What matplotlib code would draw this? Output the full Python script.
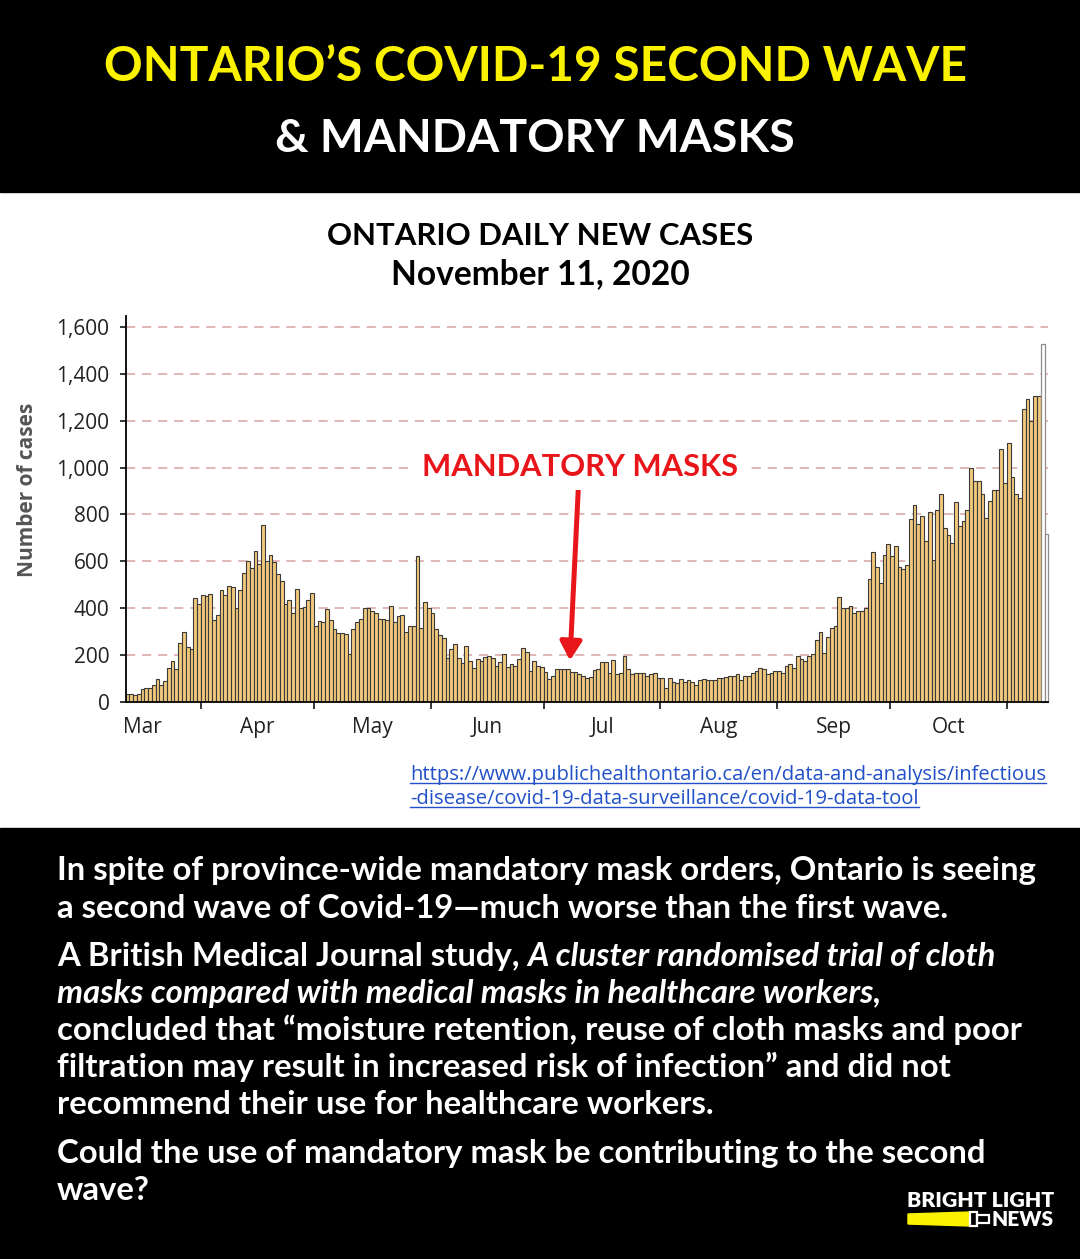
import matplotlib
matplotlib.use('Agg')
import matplotlib.pyplot as plt
import matplotlib.transforms as mtransforms
from matplotlib.patches import Rectangle, Polygon
from matplotlib.lines import Line2D
import pandas as pd

W, H = 1080, 1259

# daily new cases (Mar 12 - Nov 11, 2020)
start_date = '2020-03-12'
mar_cases = [34, 34, 29, 34, 53, 57, 57, 69, 97, 72, 86, 143, 173, 139, 250, 296, 232, 224, 443, 415]
apr_cases = [455, 450, 460, 350, 372, 479, 455, 496, 490, 399, 479, 548, 600, 572, 643, 589, 754, 602,
             625, 598, 545, 516, 419, 435, 378, 482, 399, 406, 435, 466]
may_cases = [325, 345, 338, 396, 349, 312, 292, 292, 289, 202, 309, 338, 353, 401, 401, 389, 378, 355,
             353, 349, 408, 342, 365, 372, 296, 325, 325, 624, 314, 426, 402]
jun_cases = [378, 309, 284, 273, 185, 225, 245, 185, 166, 238, 175, 142, 180, 173, 192, 195, 188, 154,
             171, 203, 149, 159, 154, 182, 228, 210, 132, 175, 154, 149]
jul_cases = [128, 95, 107, 139, 139, 139, 138, 128, 125, 118, 111, 100, 104, 135, 139, 168, 168, 121,
             178, 118, 124, 196, 139, 118, 121, 121, 121, 107, 118, 121, 100]
aug_cases = [100, 57, 100, 85, 81, 97, 85, 90, 85, 71, 90, 97, 90, 90, 90, 100, 100, 104, 107, 111,
             118, 92, 111, 111, 121, 132, 145, 139, 118, 121, 131]
sep_cases = [132, 120, 153, 160, 142, 196, 180, 173, 196, 202, 263, 296, 206, 277, 313, 324, 448, 401,
             401, 408, 377, 388, 388, 398, 522, 640, 576, 509, 626, 673]
oct_cases = [622, 664, 576, 568, 585, 779, 842, 760, 795, 685, 812, 606, 819, 888, 743, 713, 679, 853,
             749, 771, 819, 1000, 944, 944, 888, 784, 859, 905, 905, 1080, 935]
nov_cases = [1104, 959, 888, 871, 1251, 1294, 1198, 1305, 1305, 1528, 717]
n_incomplete = 2   # last days drawn as outline only

month_names = ['Mar', 'Apr', 'May', 'Jun', 'Jul', 'Aug', 'Sep', 'Oct']
y_ticks = [0, 200, 400, 600, 800, 1000, 1200, 1400, 1600]

mask_date = '2020-07-08'
mask_tip, mask_tail = 175, 905

cases = (mar_cases + apr_cases + may_cases + jun_cases + jul_cases + aug_cases
         + sep_cases + oct_cases + nov_cases)
dates = pd.date_range(start_date, periods=len(cases), freq='D')

fig = plt.figure(figsize=(W / 100, H / 100), dpi=100)
fig.patch.set_facecolor('white')
renderer = fig.canvas.get_renderer()

# pixel coordinates, origin top-left
pix = mtransforms.Affine2D().scale(1.0 / W, -1.0 / H).translate(0, 1) + fig.transFigure

TITLE_FONT = ['Lato', 'DejaVu Sans']
TICK_FONT = ['Open Sans', 'DejaVu Sans']


def width_of(t):
    return t.get_window_extent(renderer=renderer).width


def fit(t, target):
    for _ in range(2):
        t.set_fontsize(t.get_fontsize() * target / width_of(t))
    return t.get_fontsize()


def ptext(x, y, s, **kw):
    kw.setdefault('family', TITLE_FONT)
    kw.setdefault('weight', 'bold')
    kw.setdefault('va', 'baseline')
    return fig.text(x, y, s, transform=pix, **kw)


# black bands
fig.patches.append(Rectangle((0, 0), W, 192, transform=pix, color='black', zorder=0))
fig.patches.append(Rectangle((0, 828), W, H - 828, transform=pix, color='black', zorder=0))

# header
t1 = ptext(535, 81, 'ONTARIO’S COVID-19 SECOND WAVE', color='#fbf200', ha='center', fontsize=30)
fit(t1, 862)
t2 = ptext(535, 152, '& MANDATORY MASKS', color='white', ha='center', fontsize=30)
fit(t2, 520)

# chart title
c1 = ptext(540, 245, 'ONTARIO DAILY NEW CASES', color='black', ha='center', fontsize=20)
fit(c1, 425)
c2 = ptext(540, 284, 'November 11, 2020', color='black', ha='center', fontsize=20)
fit(c2, 299)

# axes
x0, x1, yb, yt = 125.5, 1048.3, 701.5, 315.8
ax = fig.add_axes([x0 / W, (H - yb) / H, (x1 - x0) / W, (yb - yt) / H])
ax.set_facecolor('none')
ax.bar(dates[:-n_incomplete], cases[:-n_incomplete], width=1, align='edge',
       color='#f2c97c', edgecolor='#3a3a3a', linewidth=0.8, zorder=2)
ax.bar(dates[-n_incomplete:], cases[-n_incomplete:], width=1, align='edge',
       color='white', edgecolor='#8c8c8c', linewidth=0.9, zorder=2, clip_on=False)
for v in y_ticks[1:]:
    ax.axhline(v, color='#d8a3a3', lw=1.1, ls=(0, (6, 4.5)), zorder=1)

ax.set_xlim(dates[0], dates[-1] + pd.Timedelta(days=1))
ax.set_ylim(0, 1650)
for s in ['top', 'right']:
    ax.spines[s].set_visible(False)
for s in ['left', 'bottom']:
    ax.spines[s].set_linewidth(1.3)
    ax.spines[s].set_color('black')

ax.set_yticks(y_ticks)
ax.set_yticklabels([f'{v:,}' for v in y_ticks], family=TICK_FONT, fontsize=15, color='#222222')
ax.tick_params(axis='y', length=4.5, width=1.1, pad=7)

month_starts = pd.date_range('2020-03-01', periods=len(month_names) + 1, freq='MS')
ax.set_xticks(month_starts[1:])
ax.set_xticklabels([])
mids = [m + (n - m) / 2 for m, n in zip(month_starts[:-1], month_starts[1:])]
ax.set_xticks(mids, minor=True)
ax.set_xticklabels(month_names, minor=True, family=TICK_FONT, fontsize=15, color='#222222')
ax.tick_params(axis='x', which='major', length=5, width=1.1)
ax.tick_params(axis='x', which='minor', length=0, pad=11)

fig.text(28 / W, 1 - 490 / H, 'Number of cases', rotation=90, ha='center', va='center',
         family=TICK_FONT, weight='bold', fontsize=15, color='#555555')

# mandatory masks annotation
red = '#e8161b'
m1 = ptext(580, 476, 'MANDATORY MASKS', color=red, ha='center', fontsize=20, zorder=6,
           bbox=dict(facecolor='white', edgecolor='none', pad=6))
fit(m1, 316)
ax.annotate('', xy=(pd.Timestamp(mask_date), mask_tip),
            xytext=(pd.Timestamp(mask_date) + pd.Timedelta(days=2.2), mask_tail),
            arrowprops=dict(arrowstyle='-|>,head_length=0.45,head_width=0.26', color=red,
                            lw=3.6, mutation_scale=25, shrinkA=0, shrinkB=0), zorder=5)

# source link
blue = '#2150c8'
src = ['https://www.publichealthontario.ca/en/data-and-analysis/infectious',
       '-disease/covid-19-data-surveillance/covid-19-data-tool']
s1 = ptext(410, 780, src[0], color=blue, weight='normal', family=TICK_FONT, fontsize=13)
fs = fit(s1, 636)
s2 = ptext(410, 804, src[1], color=blue, weight='normal', family=TICK_FONT, fontsize=fs)
for t, yy in [(s1, 783), (s2, 807)]:
    fig.add_artist(Line2D([410, 410 + width_of(t)], [yy, yy], transform=pix, color=blue, lw=1))

# bottom paragraph
lines = [
    (880, [('In spite of province-wide mandatory mask orders, Ontario is seeing', 'normal')]),
    (918, [('a second wave of Covid-19—much worse than the first wave.', 'normal')]),
    (966, [('A British Medical Journal study, ', 'normal'),
           ('A cluster randomised trial of cloth', 'italic')]),
    (1003, [('masks compared with medical masks in healthcare workers,', 'italic')]),
    (1040, [('concluded that “moisture retention, reuse of cloth masks and poor', 'normal')]),
    (1077, [('filtration may result in increased risk of infection” and did not', 'normal')]),
    (1114, [('recommend their use for healthcare workers.', 'normal')]),
    (1163, [('Could the use of mandatory mask be contributing to the second', 'normal')]),
    (1200, [('wave?', 'normal')]),
]
p0 = ptext(57, lines[0][0], lines[0][1][0][0], color='white', fontsize=20)
fs = fit(p0, 978)
p0.remove()
for yy, parts in lines:
    xx = 57
    for s, style in parts:
        t = ptext(xx, yy, s, color='white', fontsize=fs, style=style)
        xx += width_of(t)

# logo
b1 = ptext(1054, 1207, 'BRIGHT LIGHT', color='white', ha='right', fontsize=12, weight='heavy')
fit(b1, 147)
b2 = ptext(1054, 1226, 'NEWS', color='white', ha='right', fontsize=12, weight='heavy')
fit(b2, 62)
fig.patches.append(Polygon([(908, 1214), (908, 1224), (970, 1226), (970, 1212)],
                           closed=True, transform=pix, color='#fbf200', zorder=1))
fig.patches.append(Rectangle((970, 1212), 7, 14, transform=pix, fill=False,
                             edgecolor='white', lw=1.6, zorder=2))
fig.patches.append(Rectangle((977, 1215), 12, 8, transform=pix, fill=False,
                             edgecolor='white', lw=1.6, zorder=2))

fig.savefig('out.png', dpi=100, facecolor=fig.get_facecolor())
